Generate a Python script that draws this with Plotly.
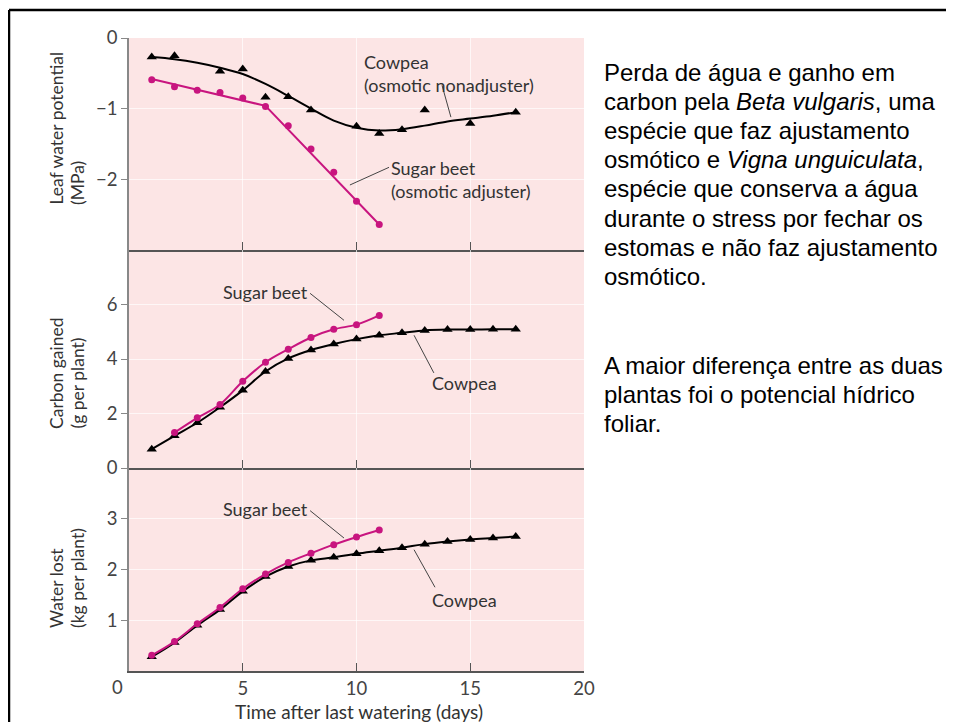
import plotly.graph_objects as go

# ---------------- data ----------------
days_cowpea = list(range(1, 18))
days_beet = list(range(1, 12))

# Leaf water potential (MPa)
lwp_cowpea_x = [1, 2, 4, 5, 6, 7, 8, 10, 11, 12, 13, 15, 17]
lwp_cowpea = [-0.27, -0.25, -0.47, -0.44, -0.84, -0.83, -1.02, -1.25, -1.35, -1.30, -1.02, -1.21, -1.05]
lwp_cowpea_fit = [-0.27, -0.30, -0.35, -0.42, -0.51, -0.65, -0.82, -1.00, -1.17, -1.27, -1.31,
                  -1.29, -1.24, -1.18, -1.14, -1.10, -1.05]
lwp_beet = [-0.59, -0.69, -0.74, -0.77, -0.85, -0.97, -1.24, -1.57, -1.90, -2.31, -2.64]
lwp_beet_fit_x = [1, 6, 11]
lwp_beet_fit = [-0.58, -0.96, -2.64]

# Carbon gained (g per plant)
carbon_cowpea = [0.69, 1.18, 1.66, 2.23, 2.85, 3.54, 4.02, 4.33, 4.55, 4.73, 4.87, 4.96, 5.05,
                 5.08, 5.08, 5.09, 5.09]
carbon_beet_x = [2, 3, 4, 5, 6, 7, 8, 9, 10, 11]
carbon_beet = [1.30, 1.84, 2.33, 3.18, 3.88, 4.36, 4.79, 5.09, 5.26, 5.60]

# Water lost (kg per plant)
water_cowpea = [0.28, 0.56, 0.90, 1.21, 1.57, 1.86, 2.06, 2.18, 2.24, 2.31, 2.37, 2.43, 2.50,
                2.55, 2.59, 2.62, 2.65]
water_beet = [0.31, 0.58, 0.93, 1.25, 1.62, 1.91, 2.14, 2.32, 2.49, 2.64, 2.78]

x_ticks = [0, 5, 10, 15, 20]
y1_ticks = [0, -1, -2]
y2_ticks = [0, 2, 4, 6]
y3_ticks = [1, 2, 3]

y_titles = [("Leaf water potential", "(MPa)"),
            ("Carbon gained", "(g per plant)"),
            ("Water lost", "(kg per plant)")]

text_para1 = ["Perda de água e ganho em",
              "carbon pela <i>Beta vulgaris</i>, uma",
              "espécie que faz ajustamento",
              "osmótico e <i>Vigna unguiculata</i>,",
              "espécie que conserva a água",
              "durante o stress por fechar os",
              "estomas e não faz ajustamento",
              "osmótico."]
text_para2 = ["A maior diferença entre as duas",
              "plantas foi o potencial hídrico",
              "foliar."]

# ---------------- style ----------------
W, H = 954, 722
OFF = 8  # page body margin
# target plot area in page pixels: x 129..584, y 38..671
PL, PR, PT, PB = 129, 584, 38, 671
L, R, T, B = PL - OFF, W + OFF - PR, PT - OFF, H + OFF - PB
PW, PH = PR - PL, PB - PT
BG = "rgb(252,229,229)"
MAG = "#c8157f"
AX = "#555555"
FONT = "Lato"

def px2paper(px, py):
    return (px - PL) / PW, (PB - py) / PH

# panel domains (bottom, middle, top)
d3 = [0, (PB - 468) / PH]
d2 = [d3[1], (PB - 250) / PH]
d1 = [d2[1], 1]

fig = go.Figure()

def add_series(x, y, xa, ya, color, symbol, size, mode="markers", shape="linear", width=2):
    fig.add_trace(go.Scatter(x=x, y=y, xaxis=xa, yaxis=ya, mode=mode,
                             line=dict(color=color, width=width, shape=shape, smoothing=1.0),
                             marker=dict(color=color, symbol=symbol, size=size),
                             showlegend=False, hoverinfo="x+y"))

# top panel
add_series(days_cowpea, lwp_cowpea_fit, "x", "y", "black", "circle", 1, mode="lines", shape="spline")
add_series(lwp_cowpea_x, lwp_cowpea, "x", "y", "black", "triangle-up", 9)
add_series(lwp_beet_fit_x, lwp_beet_fit, "x", "y", MAG, "circle", 1, mode="lines")
add_series(days_beet, lwp_beet, "x", "y", MAG, "circle", 7)

# middle panel
add_series(days_cowpea, carbon_cowpea, "x2", "y2", "black", "triangle-up", 9, mode="lines+markers", shape="spline")
add_series(carbon_beet_x, carbon_beet, "x2", "y2", MAG, "circle", 7, mode="lines+markers", shape="spline")

# bottom panel
add_series(days_cowpea, water_cowpea, "x3", "y3", "black", "triangle-up", 9, mode="lines+markers", shape="spline")
add_series(days_beet, water_beet, "x3", "y3", MAG, "circle", 7, mode="lines+markers", shape="spline")

TICKF = dict(family=FONT, size=18.5, color="#444")
xcommon = dict(range=[0, 20], tickvals=x_ticks, showline=True, linecolor=AX, linewidth=1.5,
               ticks="inside", ticklen=8, tickcolor=AX, showgrid=True,
               gridcolor="rgba(255,255,255,0.7)", gridwidth=1, zeroline=False,
               tickfont=TICKF, fixedrange=True)
ycommon = dict(showline=True, linecolor="#888", linewidth=1.5, ticks="outside", ticklen=6,
               tickcolor="#888", showgrid=True, gridcolor="rgba(255,255,255,0.7)", zeroline=False,
               tickfont=TICKF, fixedrange=True)

fig.update_layout(
    width=W, height=H, margin=dict(l=L, r=R, t=T, b=B),
    paper_bgcolor="white", plot_bgcolor=BG,
    xaxis=dict(xcommon, anchor="y", showticklabels=False),
    xaxis2=dict(xcommon, anchor="y2", matches="x", showticklabels=False),
    xaxis3=dict(xcommon, anchor="y3", matches="x",
                tickvals=x_ticks[1:], ticktext=[str(v) for v in x_ticks[1:]]),
    yaxis=dict(ycommon, domain=d1, range=[-3, 0], tickvals=y1_ticks),
    yaxis2=dict(ycommon, domain=d2, range=[0, 8], tickvals=y2_ticks),
    yaxis3=dict(ycommon, domain=d3, range=[0, 4], tickvals=y3_ticks),
    font=dict(family=FONT, color="#333"),
)

ann = []

def paper_text(txt, px, py, font, **kw):
    xp, yp = px2paper(px, py)
    d = dict(text=txt, x=xp, y=yp, xref="paper", yref="paper", showarrow=False,
             xanchor="center", yanchor="middle", font=font)
    d.update(kw)
    ann.append(d)

# x axis "0" label at the corner and title
paper_text("0", 117, 687, TICKF)
paper_text("Time after last watering (days)", 359, 711, dict(family=FONT, size=19, color="#333"))

# y axis titles (two lines each, bottom-aligned)
YTF = dict(family=FONT, size=17.5, color="#333")
for (l1, l2), pybot in zip(y_titles, [207, 431, 630]):
    paper_text(l1, 56, pybot, YTF, textangle=-90, yanchor="bottom")
    paper_text(l2, 77, pybot, YTF, textangle=-90, yanchor="bottom")

lab_font = dict(family=FONT, size=18, color="#333")
# in-plot labels
ann.append(dict(text="Cowpea<br>(osmotic nonadjuster)", x=10.24, y=-0.50, xref="x", yref="y",
                xanchor="left", align="left", showarrow=False, font=lab_font))
ann.append(dict(text="Sugar beet<br>(osmotic adjuster)", x=11.45, y=-2.0, xref="x", yref="y",
                xanchor="left", align="left", showarrow=False, font=lab_font))
ann.append(dict(text="Sugar beet", x=7.95, y=6.46, xref="x2", yref="y2", xanchor="right",
                showarrow=False, font=lab_font))
ann.append(dict(text="Cowpea", x=13.25, y=3.13, xref="x2", yref="y2", xanchor="left",
                showarrow=False, font=lab_font))
ann.append(dict(text="Sugar beet", x=7.95, y=3.19, xref="x3", yref="y3", xanchor="right",
                showarrow=False, font=lab_font))
ann.append(dict(text="Cowpea", x=13.25, y=1.39, xref="x3", yref="y3", xanchor="left",
                showarrow=False, font=lab_font))

# right-hand text, one line per annotation
RF = dict(family="Liberation Sans", size=24, color="black")
for i, line in enumerate(text_para1):
    paper_text(line, 602, 73 + 29 * i, RF, xanchor="left")
for i, line in enumerate(text_para2):
    paper_text(line, 602, 365 + 29 * i, RF, xanchor="left")

fig.update_layout(annotations=ann)

# leader lines (data coords)
leaders = [("x", "y", 13.76, -0.67, 14.15, -1.12),
           ("x", "y", 11.43, -1.83, 9.71, -2.08),
           ("x2", "y2", 7.96, 6.41, 9.45, 5.42),
           ("x2", "y2", 12.53, 4.87, 13.4, 3.49),
           ("x3", "y3", 7.96, 3.16, 9.45, 2.62),
           ("x3", "y3", 12.53, 2.39, 13.45, 1.65)]
shapes = []
for xr, yr, xa0, ya0, xa1, ya1 in leaders:
    shapes.append(dict(type="line", xref=xr, yref=yr, x0=xa0, y0=ya0, x1=xa1, y1=ya1,
                       line=dict(color="#444", width=1)))

# slide frame
fl, ft = px2paper(9, 10)
shapes.append(dict(type="line", xref="paper", yref="paper", x0=fl, x1=2.0, y0=ft, y1=ft,
                   line=dict(color="black", width=2.5)))
shapes.append(dict(type="line", xref="paper", yref="paper", x0=fl, x1=fl, y0=-0.2, y1=ft,
                   line=dict(color="black", width=2.5)))
fig.update_layout(shapes=shapes)

fig.write_html("out.html")
